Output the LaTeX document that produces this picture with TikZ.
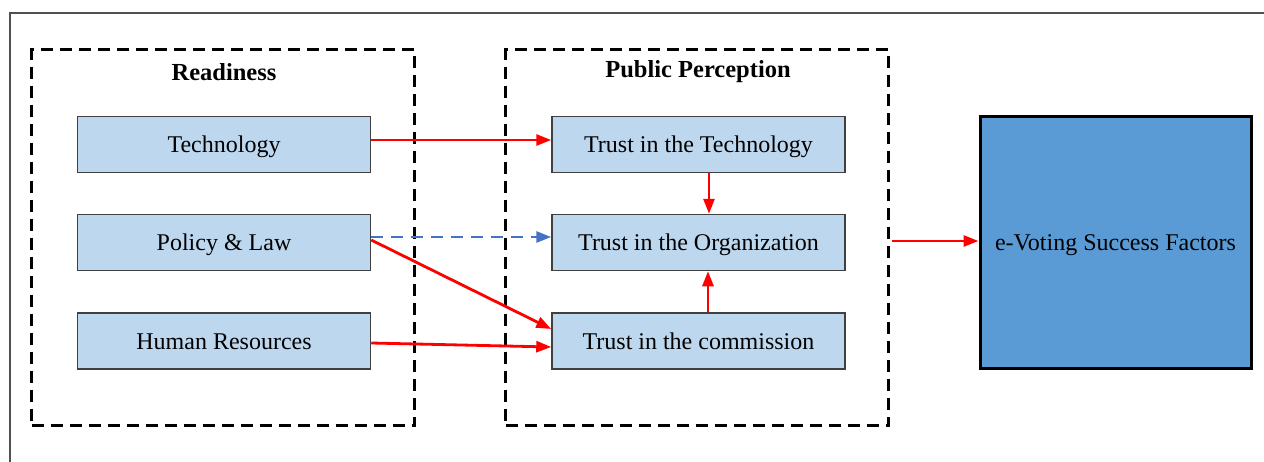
\documentclass[tikz,border=0pt]{standalone}
\usepackage{fontspec}
\setmainfont{Liberation Serif}
\usetikzlibrary{arrows.meta}
\definecolor{boxfill}{HTML}{BDD7EE}
\definecolor{boxdraw}{HTML}{404040}
\definecolor{evfill}{HTML}{5B9BD5}
\definecolor{dashblue}{HTML}{4472C4}
\definecolor{framegray}{HTML}{505050}
\begin{document}
\begin{tikzpicture}[x=1pt,y=-1pt,
  every node/.style={font=\fontsize{24}{28}\selectfont},
  itembox/.style={draw=boxdraw,fill=boxfill,line width=1.5pt,minimum width=293pt,minimum height=56pt,inner sep=0pt,text height=22pt,text depth=5.3pt},
  groupbox/.style={draw=black,line width=3pt,dash pattern=on 12pt off 7pt,minimum width=383pt,minimum height=376pt,inner sep=0pt},
  grouptitle/.style={font=\fontsize{24.5}{28}\selectfont\bfseries},
  redarrow/.style={draw=red,line width=2.8pt,-{Triangle[length=15pt,width=11pt]}},
  bluearrow/.style={draw=dashblue,line width=2.8pt,dash pattern=on 12pt off 8pt,-{Triangle[length=15pt,width=11pt]}}
]
\useasboundingbox (0,0) rectangle (1264,461);
\fill[white] (0,0) rectangle (1264,461);
% outer frame
\draw[framegray,line width=2pt] (10,470) -- (10,13) -- (1275,13);

% group boxes
\node[groupbox] (rd) at (223,237.5) {};
\node[groupbox] (pp) at (697,237.5) {};
\node[grouptitle] (rdt) at (224,72) {Readiness};
\node[grouptitle] (ppt) at (698,72) {Public Perception};

% readiness items
\node[itembox] (tech) at (224,144.5) {Technology};
\node[itembox] (pol) at (224,242.5) {Policy \& Law};
\node[itembox] (hr) at (224,341) {Human Resources};

% perception items
\node[itembox] (tt) at (698.5,144.5) {Trust in the Technology};
\node[itembox] (to) at (698.5,242.5) {Trust in the Organization};
\node[itembox] (tc) at (698.5,341) {Trust in the commission};

% success factors
\node[draw=black,fill=evfill,line width=3pt,minimum width=271pt,minimum height=252pt,inner sep=0pt,text height=22pt,text depth=5.3pt] (ev) at (1115.5,242) {e-Voting Success Factors};

% connectors
\draw[redarrow] ([yshift=4.5pt]tech.east) -- ([yshift=4.5pt]tt.west);
\draw[bluearrow] ([yshift=5.5pt]pol.east) -- ([yshift=5.5pt]to.west);
\draw[redarrow] ([yshift=2.5pt]pol.east) -- ([yshift=12pt]tc.west);
\draw[redarrow] ([yshift=-2pt]hr.east) -- ([yshift=-6pt]tc.west);
\draw[redarrow] ([xshift=10.5pt]tt.south) -- ([xshift=10.5pt]to.north);
\draw[redarrow] ([xshift=9.5pt]tc.north) -- ([xshift=9.5pt]to.south);
\draw[redarrow] ([xshift=2pt,yshift=-3.5pt]pp.east) -- ([yshift=1pt]ev.west);
\end{tikzpicture}
\end{document}
